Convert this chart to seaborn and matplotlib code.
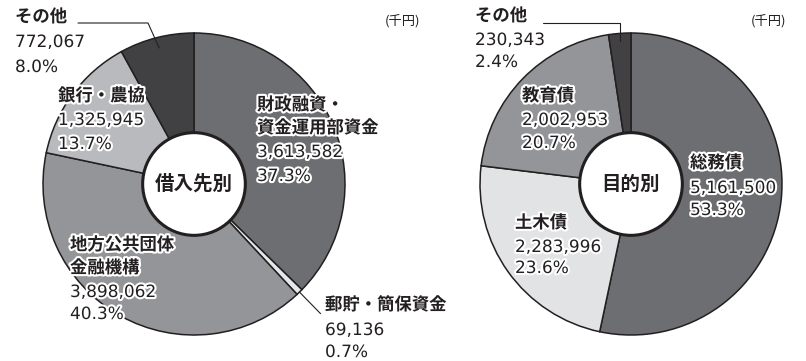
import numpy as np
import matplotlib
matplotlib.use("Agg")
import matplotlib.pyplot as plt
import matplotlib.patheffects as pe
import seaborn as sns

# data (千円)
src_labels = ["財政融資・\n資金運用部資金", "郵貯・簡保資金", "地方公共団体\n金融機構", "銀行・農協", "その他"]
src_values = [3613582, 69136, 3898062, 1325945, 772067]
src_pcts = ["37.3%", "0.7%", "40.3%", "13.7%", "8.0%"]

pur_labels = ["総務債", "土木債", "教育債", "その他"]
pur_values = [5161500, 2283996, 2002953, 230343]
pur_pcts = ["53.3%", "23.6%", "20.7%", "2.4%"]

src_colors = ["#6d6e71", "#e6e7e8", "#939598", "#b9babd", "#414042"]
pur_colors = ["#6d6e71", "#e2e3e4", "#939598", "#414042"]

sns.set_style("white")
plt.rcParams['font.family'] = ['Noto Sans CJK JP', 'DejaVu Sans']

W, H = 806, 361
fig = plt.figure(figsize=(W / 100, H / 100), dpi=100)
INK = "#231f20"
R = 151
HOLE = 0.34


def donut(cx, cy, values, colors, center_text):
    ax = fig.add_axes([(cx - R) / W, (H - cy - R) / H, 2 * R / W, 2 * R / H])
    wedges, _ = ax.pie(values, colors=colors, startangle=90, counterclock=False,
                       radius=1, wedgeprops=dict(width=1 - HOLE, edgecolor=INK, linewidth=1.1))
    ax.add_patch(plt.Circle((0, 0), HOLE, facecolor="white", edgecolor=INK, linewidth=2.2, zorder=5))
    ax.text(0, 0, center_text, ha="center", va="center", fontsize=14, fontweight="bold",
            color=INK, zorder=6)
    ax.set_xlim(-1, 1)
    ax.set_ylim(-1, 1)
    ax.axis("off")
    return ax, wedges


def p2d(cx, cy, px, py):
    return (px - cx) / R, (cy - py) / R


def wedge_point(w, r):
    a = np.deg2rad((w.theta1 + w.theta2) / 2)
    return r * np.cos(a), r * np.sin(a)


axL, wL = donut(194, 184, src_values, src_colors, "借入先別")
axR, wR = donut(631, 184, pur_values, pur_colors, "目的別")

# leader lines
x0, y0 = wedge_point(wL[4], 0.93)
e1 = p2d(194, 184, 148, 23)
e2 = p2d(194, 184, 78, 23)
axL.plot([x0, e1[0], e2[0]], [y0, e1[1], e2[1]], color=INK, lw=0.8, clip_on=False, zorder=7)

x0, y0 = wedge_point(wL[1], 1.0)
x1, y1 = wedge_point(wL[1], 1.2)
axL.plot([x0, x1], [y0, y1], color=INK, lw=0.8, clip_on=False, zorder=7)

x0, y0 = wedge_point(wR[3], 0.95)
e1 = p2d(631, 184, 620, 23)
e2 = p2d(631, 184, 543, 23)
axR.plot([x0, x0, e2[0]], [y0, e1[1], e2[1]], color=INK, lw=0.8, clip_on=False, zorder=7)

# overlay for labels in pixel space
ov = fig.add_axes([0, 0, 1, 1])
ov.set_xlim(0, W)
ov.set_ylim(H, 0)
ov.axis("off")

halo = [pe.withStroke(linewidth=3, foreground="white")]


def block(x, baselines, name, value, pct, fs=12.5):
    names = name.split("\n")
    lines = names + [f"{value:,}", pct]
    for i, (t, y) in enumerate(zip(lines, baselines)):
        is_name = i < len(names)
        ov.text(x, y, t, ha="left", va="baseline", fontsize=fs if is_name else fs - 0.3,
                color=INK, fontweight="bold" if is_name else "normal",
                family=['Noto Sans CJK JP'] if is_name else ['DejaVu Sans'],
                path_effects=halo, zorder=10)


block(15, [22, 47, 72], src_labels[4], src_values[4], src_pcts[4])
block(58, [101, 125, 149], src_labels[3], src_values[3], src_pcts[3])
block(257, [110, 133, 157, 181], src_labels[0], src_values[0], src_pcts[0])
block(70, [250, 273, 297, 319], src_labels[2], src_values[2], src_pcts[2])
block(325, [310, 335, 357], src_labels[1], src_values[1], src_pcts[1])

block(475, [21, 45, 67], pur_labels[3], pur_values[3], pur_pcts[3])
block(522, [101, 125, 148], pur_labels[2], pur_values[2], pur_pcts[2])
block(690, [168, 193, 215], pur_labels[0], pur_values[0], pur_pcts[0])
block(515, [228, 252, 273], pur_labels[1], pur_values[1], pur_pcts[1])

ov.text(385, 25, "(千円)", fontsize=9.5, color=INK, va="baseline")
ov.text(751, 25, "(千円)", fontsize=9.5, color=INK, va="baseline")

fig.savefig("out.png", dpi=100)
